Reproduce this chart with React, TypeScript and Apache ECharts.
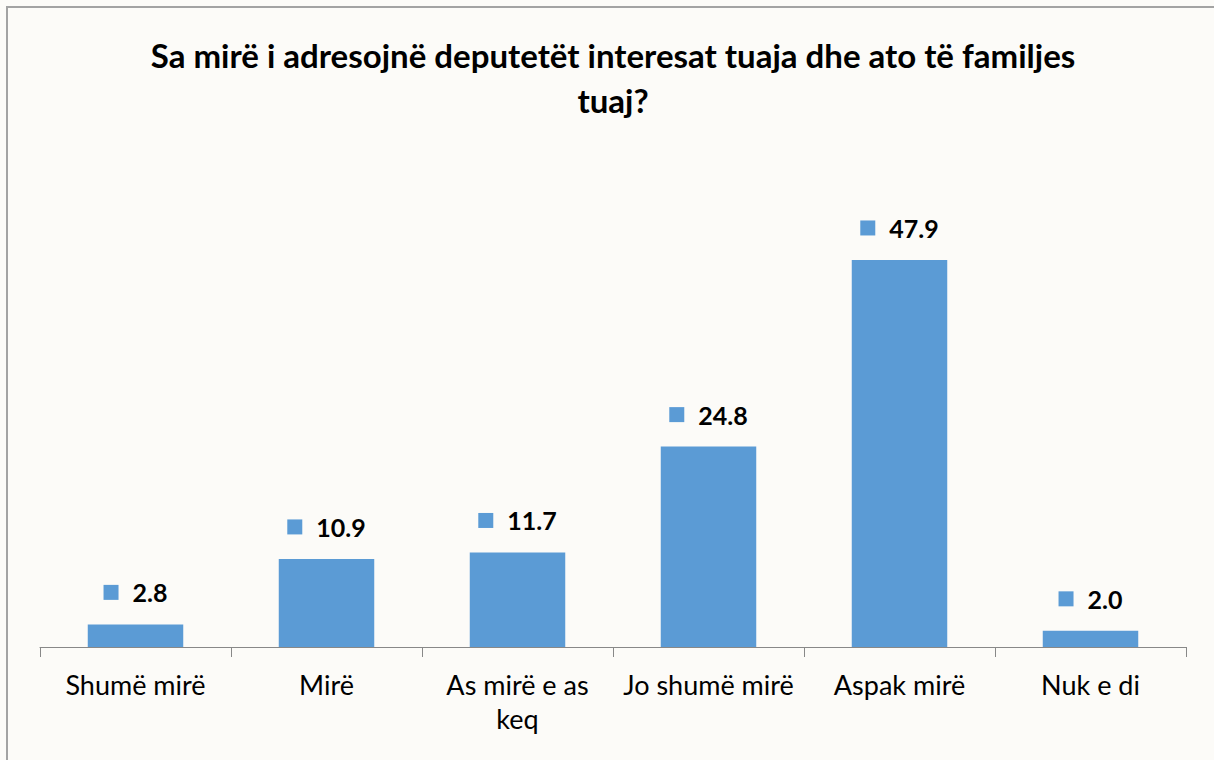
import React, { useEffect, useRef } from "react";
import * as echarts from "echarts";

const TITLE = "Sa mirë i adresojnë deputetët interesat tuaja dhe ato të familjes\ntuaj?";
const categories = ["Shumë mirë", "Mirë", "As mirë e as keq", "Jo shumë mirë", "Aspak mirë", "Nuk e di"];
const categoryLabels = ["Shumë mirë", "Mirë", "As mirë e as\nkeq", "Jo shumë mirë", "Aspak mirë", "Nuk e di"];
const values = [2.8, 10.9, 11.7, 24.8, 47.9, 2.0];

const BAR = "#5B9BD5";
const FONT = "Lato, 'Open Sans', sans-serif";

export default function App() {
  const ref = useRef<HTMLDivElement>(null);
  useEffect(() => {
    if (!ref.current) return;
    const chart = echarts.init(ref.current, null, { renderer: "svg" });
    chart.setOption({
      animation: false,
      backgroundColor: "#FCFBF8",
      graphic: [
        {
          type: "rect",
          shape: { x: 7, y: 7, width: 1240, height: 790 },
          style: { fill: "none", stroke: "#A3A3A3", lineWidth: 2 },
          silent: true,
        },
        {
          type: "text",
          x: 613,
          y: 32,
          style: {
            text: TITLE,
            textAlign: "center",
            fontFamily: FONT,
            fontWeight: "bold",
            fontSize: 33,
            lineHeight: 45,
            fill: "#000",
          },
        },
      ],
      grid: { left: 40, right: 28, top: 243, bottom: 113 },
      xAxis: {
        type: "category",
        data: categories,
        axisLine: { lineStyle: { color: "#888888", width: 1 } },
        axisTick: { show: true, length: 10, lineStyle: { color: "#888888" } },
        axisLabel: {
          interval: 0,
          margin: 20,
          color: "#000",
          fontFamily: FONT,
          fontSize: 27,
          lineHeight: 34,
          formatter: (v: string) => categoryLabels[categories.indexOf(v)] ?? v,
        },
      },
      yAxis: { type: "value", min: 0, max: 50, show: false, splitLine: { show: false } },
      series: [
        {
          type: "bar",
          data: values,
          barWidth: "50%",
          itemStyle: { color: BAR },
          label: {
            show: true,
            position: "top",
            distance: 18,
            formatter: (p: any) => `{sq| }{gap| }{v|${Number(p.value).toFixed(1)}}`,
            rich: {
              sq: { width: 15, height: 15, backgroundColor: BAR },
              gap: { width: 14 },
              v: { fontFamily: FONT, fontWeight: "bold", fontSize: 25, color: "#000", lineHeight: 28 },
            },
          },
        },
      ],
    });
    return () => chart.dispose();
  }, []);
  return (
    <div style={{ position: "fixed", left: 0, top: 0, width: 1214, height: 760, background: "#FCFBF8" }}>
      <div ref={ref} style={{ width: 1214, height: 760 }} />
    </div>
  );
}
